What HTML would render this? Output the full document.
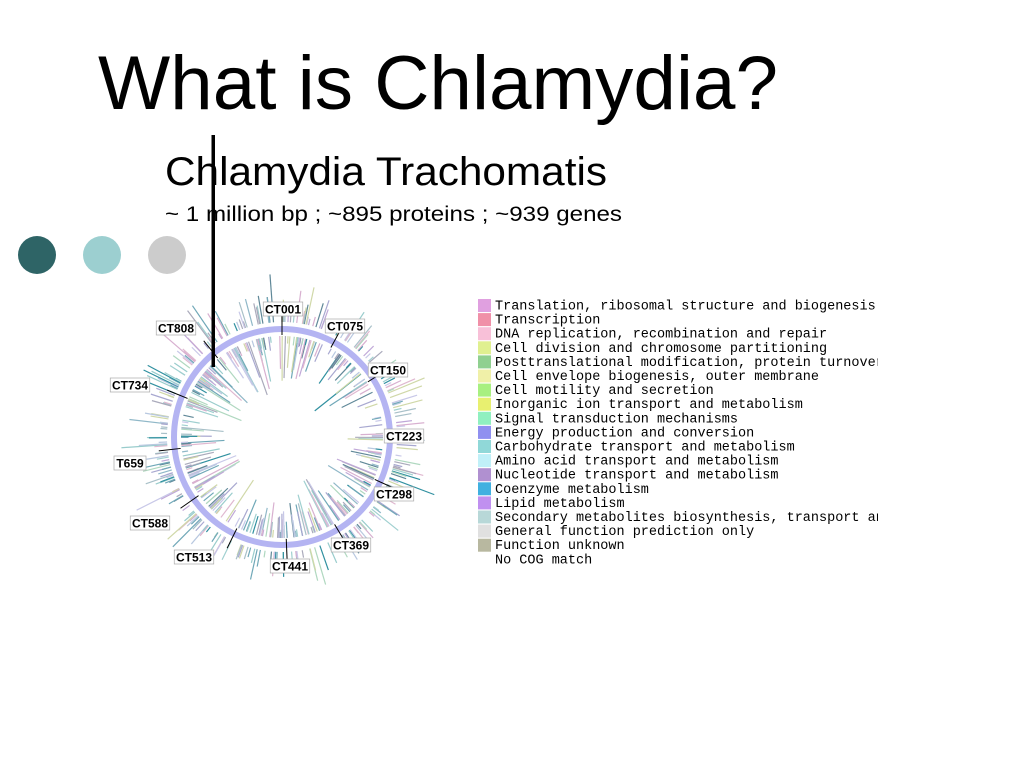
<!DOCTYPE html>
<html><head><meta charset="utf-8"><style>
html,body{margin:0;padding:0;background:#fff}
svg{display:block}
.lab{font-family:"Liberation Sans",sans-serif;font-weight:bold;font-size:12px}
.leg{font-family:"Liberation Mono",monospace;font-size:13.5px;fill:#000}
</style></head><body>
<svg id="s" width="1024" height="768" viewBox="0 0 1024 768" xmlns="http://www.w3.org/2000/svg">
<rect width="1024" height="768" fill="#fff"/>
<text x="98" y="109" font-family="Liberation Sans,sans-serif" font-size="76" textLength="680" lengthAdjust="spacingAndGlyphs">What is Chlamydia?</text>
<text x="165" y="185" font-family="Liberation Sans,sans-serif" font-size="40" textLength="442" lengthAdjust="spacingAndGlyphs">Chlamydia Trachomatis</text>
<text x="165" y="221" font-family="Liberation Sans,sans-serif" font-size="21" textLength="457" lengthAdjust="spacingAndGlyphs">~ 1 million bp ; ~895 proteins ; ~939 genes</text>
<circle cx="37" cy="255" r="19" fill="#2e6466"/>
<circle cx="102" cy="255" r="19" fill="#9ccfd0"/>
<circle cx="167" cy="255" r="19" fill="#cccccc"/>
<g id="rad"></g>
<circle cx="282" cy="437" r="108" fill="none" stroke="#b4b4f2" stroke-width="6"/>
<g id="labs"></g>
<rect x="211.5" y="135" width="3.5" height="232" fill="#000"/>
<defs><clipPath id="lc"><rect x="470" y="290" width="408" height="290"/></clipPath></defs>
<g id="leg" clip-path="url(#lc)"></g>
</svg>
<script>
var ns="http://www.w3.org/2000/svg";
var cols=["#e0a0e0","#f090a8","#f8c0d8","#e0f090","#90d090","#f0f0a8","#a8f080","#e8f070","#90f0c0","#9090f0","#90d8d8","#c0f0f8","#b090d0","#40b0e0","#c090f0","#b8d8d8","#e0e0e0","#b8b8a0"];
var lc=["#b8c8e0","#a0d0d0","#c0a8d8","#d8b0d0","#a8c0c8","#90b8c8","#3090a0","#608898","#b0d8c0","#d0d8a8","#c8c8e8","#a8a8d0","#70a8b8","#e0b8d0","#9cc","#aab"];
var seed=7;function r(){seed=(seed*16807)%2147483647;return seed/2147483647;}
var g=document.getElementById("rad"),cx=282,cy=437;
function ln(a,r1,r2,c,w){var l=document.createElementNS(ns,"line");
l.setAttribute("x1",cx+r1*Math.sin(a));l.setAttribute("y1",cy-r1*Math.cos(a));
l.setAttribute("x2",cx+r2*Math.sin(a));l.setAttribute("y2",cy-r2*Math.cos(a));
l.setAttribute("stroke",c);l.setAttribute("stroke-width",w);g.appendChild(l);}
for(var i=0;i<600;i++){var a=r()*Math.PI*2;var c=lc[Math.floor(r()*lc.length)];
 if(r()<0.5){ln(a,115,115+6+r()*r()*45,c,1.2);} else {ln(a,101,101-6-r()*r()*55,c,1.2);}}
var labs=[["CT001",283,309,0],["CT075",345,326,0.5],["CT150",388,370,1.0],["CT223",404,436,1.57],["CT298",394,494,2.0],["CT369",351,545,2.6],["CT441",290,566,3.1],["CT513",194,557,3.6],["CT588",150,523,4.1],["T659",130,463,4.6],["CT734",130,385,5.1],["CT808",176,328,5.6]];
var L=document.getElementById("labs");
labs.forEach(function(d){
 var a=d[3];var l=document.createElementNS(ns,"line");
 l.setAttribute("x1",cx+102*Math.sin(a));l.setAttribute("y1",cy-102*Math.cos(a));
 l.setAttribute("x2",cx+124*Math.sin(a));l.setAttribute("y2",cy-124*Math.cos(a));
 l.setAttribute("stroke","#000");l.setAttribute("stroke-width","1");L.appendChild(l);
 var w=d[0].length*7.5+2;var b=document.createElementNS(ns,"rect");
 b.setAttribute("x",d[1]-w/2);b.setAttribute("y",d[2]-7);b.setAttribute("width",w);b.setAttribute("height",14);
 b.setAttribute("fill","#fff");b.setAttribute("stroke","#aaa");b.setAttribute("stroke-width","0.7");L.appendChild(b);
 var t=document.createElementNS(ns,"text");t.setAttribute("x",d[1]);t.setAttribute("y",d[2]+4.5);
 t.setAttribute("text-anchor","middle");t.setAttribute("class","lab");t.textContent=d[0];L.appendChild(t);});
var items=["Translation, ribosomal structure and biogenesis","Transcription","DNA replication, recombination and repair","Cell division and chromosome partitioning","Posttranslational modification, protein turnover","Cell envelope biogenesis, outer membrane","Cell motility and secretion","Inorganic ion transport and metabolism","Signal transduction mechanisms","Energy production and conversion","Carbohydrate transport and metabolism","Amino acid transport and metabolism","Nucleotide transport and metabolism","Coenzyme metabolism","Lipid metabolism","Secondary metabolites biosynthesis, transport and catabolism","General function prediction only","Function unknown","No COG match"];
var G=document.getElementById("leg");
items.forEach(function(s,i){var y=299+i*14.1;
 if(i<18){var q=document.createElementNS(ns,"rect");q.setAttribute("x",478);q.setAttribute("y",y);q.setAttribute("width",13);q.setAttribute("height",13);q.setAttribute("fill",cols[i]);G.appendChild(q);}
 var t=document.createElementNS(ns,"text");t.setAttribute("x",495);t.setAttribute("y",y+10.5);t.setAttribute("class","leg");t.setAttribute("textLength",(s.length*8.1).toFixed(1));t.setAttribute("lengthAdjust","spacingAndGlyphs");t.textContent=s;G.appendChild(t);});
</script>
</body></html>
